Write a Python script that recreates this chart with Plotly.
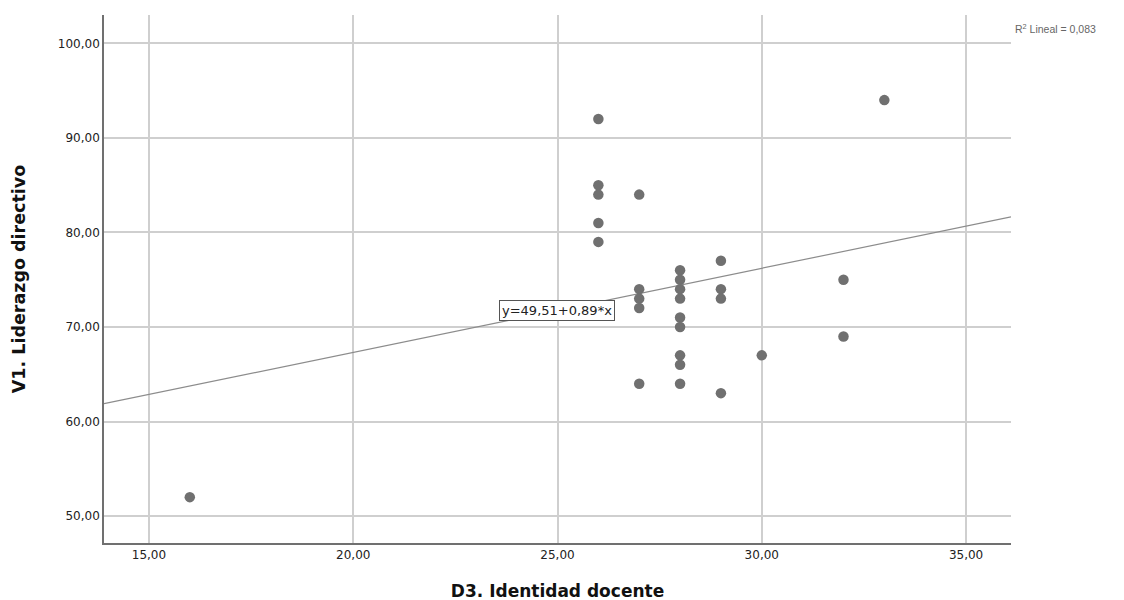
import plotly.graph_objects as go

# Data
x_vals = [16,
          26, 26, 26, 26, 26,
          27, 27, 27, 27, 27,
          28, 28, 28, 28, 28, 28, 28, 28, 28,
          29, 29, 29, 29,
          30,
          32, 32,
          33]
y_vals = [52,
          92, 85, 84, 81, 79,
          84, 74, 73, 72, 64,
          76, 75, 74, 73, 71, 70, 67, 66, 64,
          77, 74, 73, 63,
          67,
          75, 69,
          94]
intercept = 49.51
slope = 0.89
r2 = 0.083
x_range = [13.9, 36.1]
y_range = [47.15, 103.0]
x_ticks = [15, 20, 25, 30, 35]
y_ticks = [50, 60, 70, 80, 90, 100]

fit_x = x_range
fit_y = [intercept + slope * v for v in fit_x]

FONT = "DejaVu Sans, Liberation Sans, Arial, sans-serif"

fig = go.Figure()
fig.add_trace(go.Scatter(x=fit_x, y=fit_y, mode="lines",
                         line=dict(color="#8c8c8c", width=1.2),
                         hoverinfo="skip", showlegend=False))
fig.add_trace(go.Scatter(x=x_vals, y=y_vals, mode="markers",
                         marker=dict(color="#707070", size=10.5, line=dict(width=0)),
                         showlegend=False))

axis_common = dict(showgrid=True, gridcolor="#cfcfcf", gridwidth=1.5,
                   showline=True, linecolor="#707070", linewidth=1.5,
                   ticks="", zeroline=False, tickformat=".2f",
                   tickfont=dict(family=FONT, size=12, color="#222222"))

fig.update_layout(
    width=1124, height=600,
    margin=dict(l=96, r=121, t=7, b=65),
    paper_bgcolor="white", plot_bgcolor="white",
    separators=",.",
    font=dict(family=FONT),
    xaxis=dict(range=x_range, tickvals=x_ticks,
               title=dict(text="<b>D3. Identidad docente</b>", standoff=24,
                          font=dict(family=FONT, size=17, color="#111111")),
               **axis_common),
    yaxis=dict(range=y_range, tickvals=y_ticks,
               title=dict(text="<b>V1. Liderazgo directivo</b>", standoff=28,
                          font=dict(family=FONT, size=17.5, color="#111111")),
               **axis_common),
    annotations=[
        dict(x=24.98, y=71.75, xref="x", yref="y",
             text=f"y={intercept:.2f}+{slope:.2f}*x".replace(".", ","),
             showarrow=False, bgcolor="white", bordercolor="#555555", borderwidth=1,
             borderpad=2, font=dict(family=FONT, size=13, color="#222222")),
        dict(x=1.002, y=0.975, xref="paper", yref="paper", xanchor="left", yanchor="middle",
             text=f"R<sup>2</sup> Lineal = {r2:.3f}".replace(".", ","),
             showarrow=False,
             font=dict(family="Liberation Sans, Arial, sans-serif", size=10.5, color="#666666")),
    ],
)

fig.write_html("out.html")
